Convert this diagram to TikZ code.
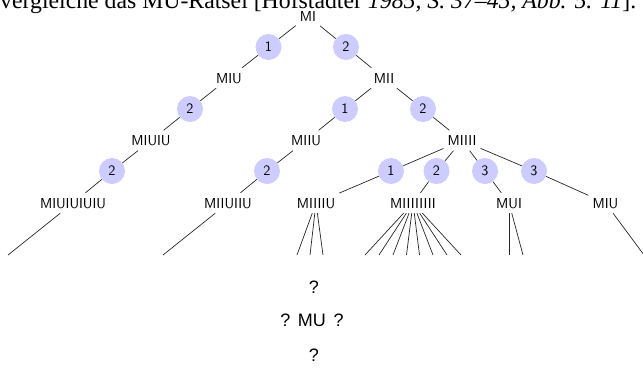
\documentclass[tikz,border=0pt]{standalone}
\usepackage{fontspec}
\newfontfamily\citefont[Ligatures=TeX]{Liberation Serif}
\newfontfamily\puzzlefont{Liberation Sans}
\begin{document}
\begin{tikzpicture}[x=1pt,y=-1pt,
  word/.style={font=\sffamily\fontsize{14.4}{17}\selectfont,
    inner xsep=4pt, inner ysep=5pt, text height=10pt, text depth=0pt},
  rulebox/.style={circle, fill=blue!20, minimum size=26pt, inner sep=0pt,
    font=\sffamily\fontsize{14.4}{17}\selectfont},
  link/.style={line width=0.7pt, black!85}]
\useasboundingbox (0,0) rectangle (643,376);

% running text line above the figure (mostly outside the page)
\node[anchor=base west, inner sep=0pt] (cite) at (0,8)
  {\resizebox{636pt}{!}{\citefont vergleiche das MU-R\"atsel [Hofstadter \textit{1985, S. 37–45, Abb. 5. 11}].}};

% derivation tree
\node[word] (mi)    at (308,16)  {MI};
\node[rulebox] (a1) at (268.5,47) {1};
\node[rulebox] (a2) at (346,47)   {2};
\node[word] (miu)   at (229,78)  {MIU};
\node[word] (mii)   at (384,78)  {MII};
\node[rulebox] (b1) at (190,109) {2};
\node[rulebox] (b2) at (345,109) {1};
\node[rulebox] (b3) at (423,109) {2};
\node[word] (miuiu) at (151,140.5) {MIUIU};
\node[word] (miiu)  at (306,140.5) {MIIU};
\node[word] (miiii) at (462,140.5) {MIIII};
\node[rulebox] (c1) at (112,171) {2};
\node[rulebox] (c2) at (267,171) {2};
\node[rulebox] (c3) at (391,171) {1};
\node[rulebox] (c4) at (436.5,171) {2};
\node[rulebox] (c5) at (485,171) {3};
\node[rulebox] (c6) at (534,171) {3};
\node[word] (d1) at (73,203)  {MIUIUIUIU};
\node[word] (d2) at (228,203) {MIIUIIU};
\node[word] (d3) at (316,203) {MIIIIU};
\node[word] (d4) at (413,203) {MIIIIIIII};
\node[word] (d5) at (509,203) {MUI};
\node[word] (d6) at (605.5,203) {MIU};

\draw[link] (mi) -- (a1) -- (miu);
\draw[link] (mi) -- (a2) -- (mii);
\draw[link] (miu) -- (b1) -- (miuiu);
\draw[link] (mii) -- (b2) -- (miiu);
\draw[link] (mii) -- (b3) -- (miiii);
\draw[link] (miuiu) -- (c1) -- (d1);
\draw[link] (miiu) -- (c2) -- (d2);
\draw[link] (miiii) -- (c3) -- (d3);
\draw[link] (miiii) -- (c4) -- (d4);
\draw[link] (miiii) -- (c5) -- (d5);
\draw[link] (miiii) -- (c6) -- (d6);

% further branches, cut off below
\coordinate (e1) at (8,255);
\coordinate (e2) at (163,255);
\draw[link] (d1) -- (e1);
\draw[link] (d2) -- (e2);
\foreach \x [count=\i] in {297,310,323} {
  \coordinate (f\i) at (\x,255);
  \draw[link] (d3) -- (f\i);
}
\foreach \x [count=\i] in {365,379,393,406.5,419.5,433,447,461} {
  \coordinate (g\i) at (\x,255);
  \draw[link] (d4) -- (g\i);
}
\foreach \x [count=\i] in {509,523} {
  \coordinate (h\i) at (\x,255);
  \draw[link] (d5) -- (h\i);
}
\coordinate (k1) at (644,255);
\draw[link] (d6) -- (k1);

% the open question
\begin{scope}[every node/.style={font=\puzzlefont\fontsize{18}{21}\selectfont, inner sep=0pt}]
\node (q1) at (314,287) {?};
\node (q2) at (312,320) {?\hspace{0.42em}MU\hspace{0.42em}?};
\node (q3) at (314,355) {?};
\end{scope}
\end{tikzpicture}
\end{document}
